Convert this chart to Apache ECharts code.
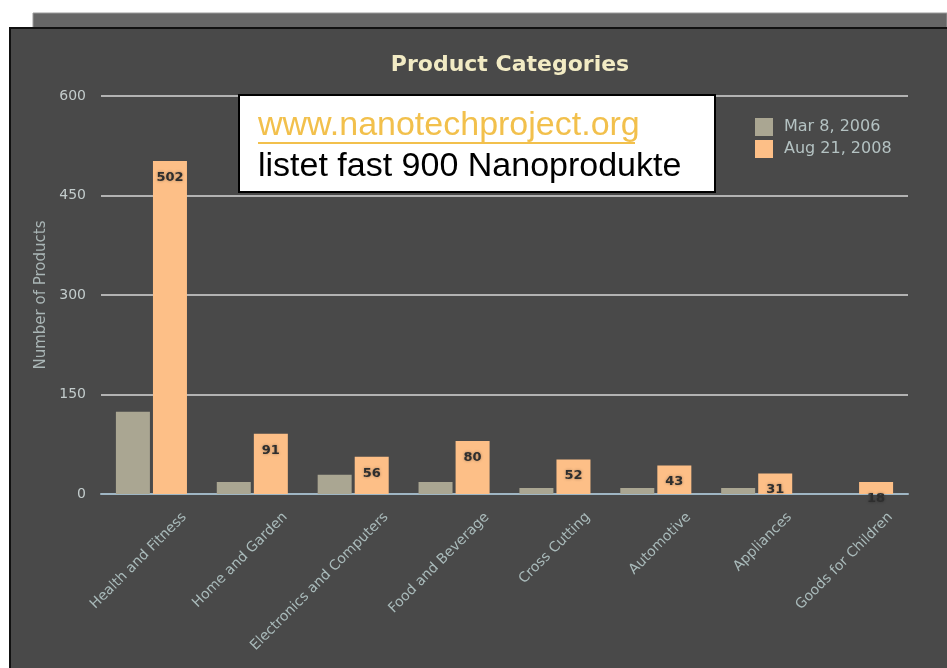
<!DOCTYPE html>
<html>
<head>
<meta charset="utf-8">
<script src="https://cdn.jsdelivr.net/npm/echarts@6/dist/echarts.min.js"></script>
<style>
  html, body { margin: 0; padding: 0; background: #ffffff; }
  #chart { width: 947px; height: 668px; }
</style>
</head>
<body>
<div id="chart"></div>
<script>
const categories = ['Health and Fitness', 'Home and Garden', 'Electronics and Computers', 'Food and Beverage',
    'Cross Cutting', 'Automotive', 'Appliances', 'Goods for Children'];
const mar2006 = [124, 18, 29, 18, 9, 9, 9, 0];
const aug2008 = [502, 91, 56, 80, 52, 43, 31, 18];
const seriesNames = ['Mar 8, 2006', 'Aug 21, 2008'];
const yTicks = [0, 150, 300, 450, 600];

const chart = echarts.init(document.getElementById('chart'));

const labelColor = '#a9baba';

const option = {
    animation: false,
    backgroundColor: '#ffffff',
    title: {
        text: 'Product Categories',
        left: 505,
        top: 49,
        textAlign: 'center',
        textStyle: { color: '#f2ebc4', fontSize: 22, fontWeight: 'bold', fontFamily: 'DejaVu Sans' }
    },
    legend: {
        orient: 'vertical',
        left: 750,
        top: 113,
        itemWidth: 18,
        itemHeight: 18,
        itemGap: 4,
        icon: 'rect',
        textStyle: { color: '#b4c2c2', fontSize: 16, fontFamily: 'DejaVu Sans', padding: [0, 0, 0, 6] },
        data: seriesNames
    },
    grid: [
        { left: 101, right: 39, top: 96, bottom: 174 },
        // same plot shifted right, only used to place the rotated category labels
        { left: 134, right: 6, top: 96, bottom: 174 }
    ],
    xAxis: [
        {
            type: 'category',
            data: categories,
            axisLine: { lineStyle: { color: '#9fb6c4', width: 2 } },
            axisTick: { show: false },
            axisLabel: { show: false }
        },
        {
            type: 'category',
            gridIndex: 1,
            data: categories,
            axisLine: { show: false },
            axisTick: { show: false },
            axisLabel: {
                rotate: 45,
                color: labelColor,
                fontSize: 14,
                fontFamily: 'DejaVu Sans',
                interval: 0,
                margin: 21
            }
        }
    ],
    yAxis: [
        {
            type: 'value',
            min: 0,
            max: 600,
            interval: 150,
            name: 'Number of Products',
            nameLocation: 'middle',
            nameGap: 52,
            nameRotate: 90,
            nameTextStyle: { color: '#aab6b6', fontSize: 15, fontFamily: 'DejaVu Sans' },
            axisLine: { show: false },
            axisTick: { show: false },
            axisLabel: {
                color: '#c3cccc',
                fontSize: 14,
                fontFamily: 'DejaVu Sans',
                margin: 15,
                formatter: v => yTicks.includes(v) ? String(v) : ''
            },
            splitLine: { lineStyle: { color: '#b3b3b3', width: 2 } }
        },
        { type: 'value', gridIndex: 1, show: false, min: 0, max: 600 }
    ],
    series: [
        {
            name: seriesNames[0],
            type: 'bar',
            data: mar2006,
            barWidth: 34,
            barGap: '9%',
            itemStyle: { color: '#aaa692' }
        },
        {
            name: seriesNames[1],
            type: 'bar',
            data: aug2008,
            barWidth: 34,
            itemStyle: { color: '#fdbf87' },
            label: {
                show: true,
                position: 'insideTop',
                distance: 10,
                color: '#2e2e2e',
                fontSize: 13,
                fontWeight: 'bold',
                fontFamily: 'DejaVu Sans',
                textShadowColor: 'rgba(0,0,0,0.35)',
                textShadowBlur: 3
            }
        }
    ],
    graphic: [
        // grey strip behind the panel
        { type: 'rect', z: -10, silent: true, shape: { x: 33, y: 13, width: 914, height: 16 },
          style: { fill: '#666666', stroke: '#9a9a9a', lineWidth: 1 } },
        // dark panel
        { type: 'rect', z: -9, silent: true, shape: { x: 10, y: 28, width: 940, height: 645 },
          style: { fill: '#494949', stroke: '#111111', lineWidth: 2 } },
        // annotation box
        { type: 'rect', z: 100, silent: true, shape: { x: 239, y: 95, width: 476, height: 97 },
          style: { fill: '#ffffff', stroke: '#000000', lineWidth: 2 } },
        { type: 'text', z: 101, silent: true, left: 258, top: 109,
          style: { text: 'www.nanotechproject.org', fill: '#f2c04c', fontSize: 34, fontFamily: 'Liberation Sans' } },
        { type: 'rect', z: 101, silent: true, shape: { x: 258, y: 142, width: 377, height: 2 },
          style: { fill: '#f2c04c' } },
        { type: 'text', z: 101, silent: true, left: 258, top: 150,
          style: { text: 'listet fast 900 Nanoprodukte', fill: '#000000', fontSize: 34, fontFamily: 'Liberation Sans' } }
    ]
};

chart.setOption(option);
</script>
</body>
</html>
